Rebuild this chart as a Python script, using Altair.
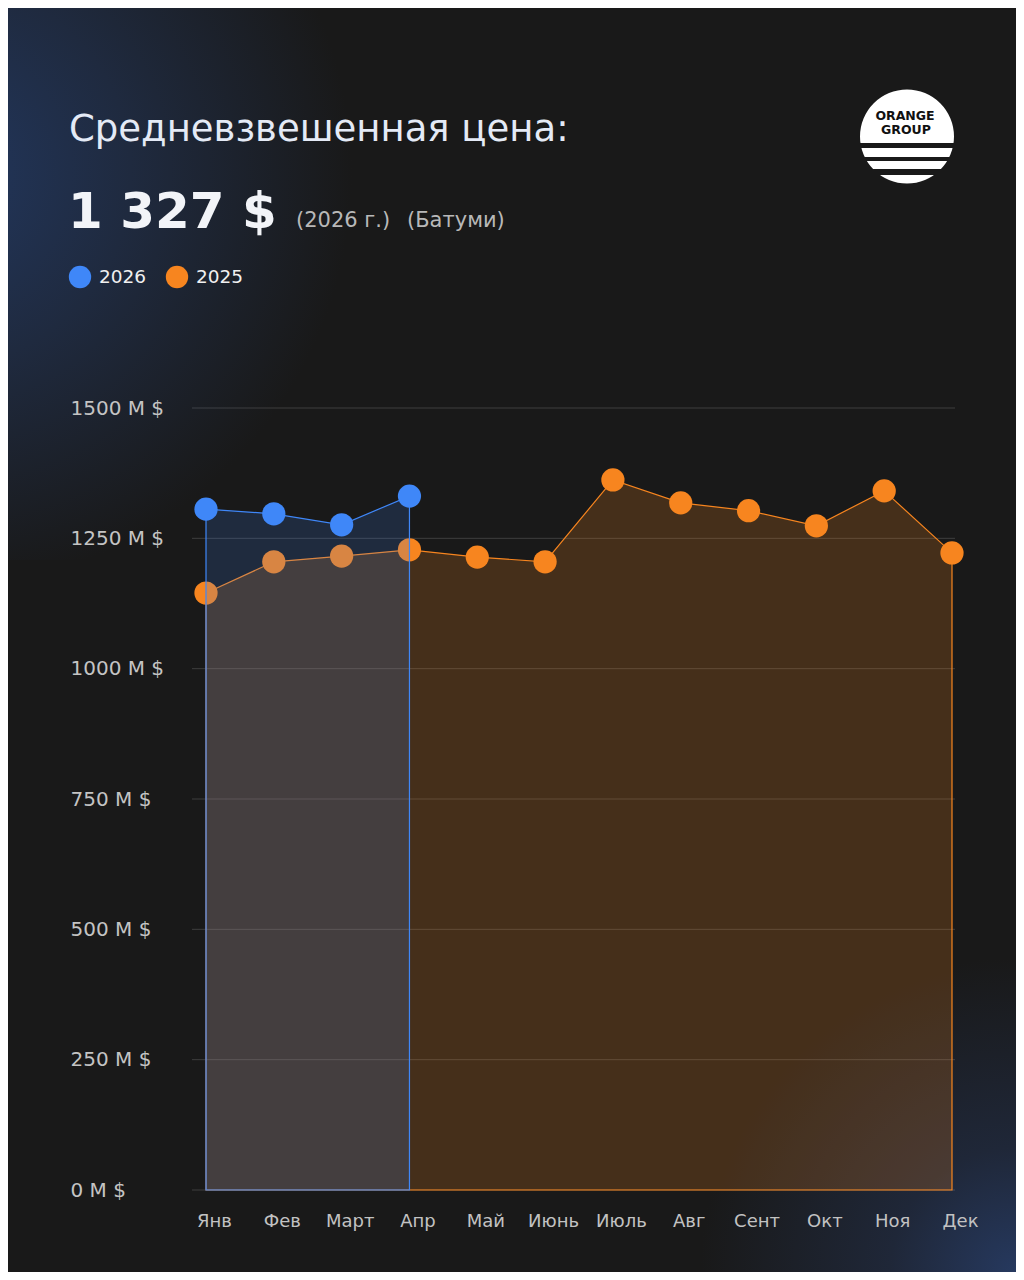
import altair as alt
import pandas as pd

# ---------------- data ----------------
months = ["Янв", "Фев", "Март", "Апр", "Май", "Июнь", "Июль", "Авг", "Сент", "Окт", "Ноя", "Дек"]
price_2025 = [1145, 1205, 1216, 1228, 1214, 1205, 1362, 1318, 1303, 1274, 1341, 1222]
price_2026 = [1306, 1297, 1276, 1331]
y_ticks = [0, 250, 500, 750, 1000, 1250, 1500]

title_text = "Средневзвешенная цена:"
big_value = "1 327 $"
sub_year = "(2026 г.)"
sub_city = "(Батуми)"
legend_labels = ["2026", "2025"]

df25 = pd.DataFrame({"month": months, "price": price_2025})
df26 = pd.DataFrame({"month": months[:len(price_2026)], "price": price_2026})
df_grid = pd.DataFrame({"price": y_ticks})

# ---------------- style ----------------
BG = "#191919"
ORANGE = "#f7851f"
BLUE = "#3f87f8"
FONT = "DejaVu Sans"

# plot area placed at screen x 192..958, y 408..1190
OX, OY = 192, 408
W, H = 766, 782
PAD = {"left": OX - 8, "top": OY - 8, "right": 1008 - (OX - 8) - W, "bottom": 1264 - (OY - 8) - H}

one = pd.DataFrame({"k": [0]})


def sx(v):
    return alt.value(v - OX)


def sy(v):
    return alt.value(v - OY)


x_enc = alt.X(
    "month:N",
    sort=months,
    scale=alt.Scale(type="point", domain=months, range=[14, 760], padding=0),
    axis=alt.Axis(
        title=None, domain=False, ticks=False, grid=False,
        labelPadding=22, labelFontSize=18, labelColor="#c2c2c2",
        labelFont=FONT, labelOffset=8, labelAngle=0, zindex=2,
    ),
)
y_scale = alt.Scale(domain=[0, 1500], nice=False, zero=True)
y_enc = alt.Y(
    "price:Q",
    scale=y_scale,
    axis=alt.Axis(
        title=None, values=y_ticks, domain=False, ticks=False,
        labelExpr="datum.value + ' M $'", labelAlign="left", labelBaseline="middle",
        labelPadding=OX - 70, labelFontSize=20, labelColor="#c4c4c4", labelFont=FONT,
        grid=False, zindex=2,
    ),
)

# ---------------- background glows ----------------
glow_tl = alt.Chart(one).mark_rect(
    fill={
        "gradient": "radial",
        "x1": 0.0, "y1": 0.3, "r1": 0.0,
        "x2": 0.0, "y2": 0.3, "r2": 1.0,
        "stops": [
            {"offset": 0.0, "color": "#22375e"},
            {"offset": 0.35, "color": "#1f2a3f"},
            {"offset": 0.75, "color": BG},
            {"offset": 1.0, "color": BG},
        ],
    }
).encode(x=sx(8), x2=sx(420), y=sy(8), y2=sy(560))

glow_br = alt.Chart(one).mark_rect(
    fill={
        "gradient": "radial",
        "x1": 1.0, "y1": 1.0, "r1": 0.0,
        "x2": 1.0, "y2": 1.0, "r2": 1.0,
        "stops": [
            {"offset": 0.0, "color": "#26395f"},
            {"offset": 0.4, "color": "#1f2738"},
            {"offset": 1.0, "color": BG},
        ],
    }
).encode(x=sx(700), x2=sx(1016), y=sy(960), y2=sy(1272))

# ---------------- gridlines ----------------
grid = alt.Chart(df_grid).mark_rule(color="#ffffff", opacity=0.16, strokeWidth=1).encode(
    y=y_enc, x=sx(192), x2=sx(955)
)

# ---------------- data layers ----------------
area25 = alt.Chart(df25).mark_area(
    fill=ORANGE, fillOpacity=0.2, stroke=ORANGE, strokeWidth=1.2, opacity=1
).encode(x=x_enc, y=y_enc)
pts25 = alt.Chart(df25).mark_circle(size=540, color=ORANGE, opacity=1).encode(x=x_enc, y=y_enc)

area26 = alt.Chart(df26).mark_area(
    fill=BLUE, fillOpacity=0.17, stroke=BLUE, strokeWidth=1.2, opacity=1
).encode(x=x_enc, y=y_enc)
pts26 = alt.Chart(df26).mark_circle(size=540, color=BLUE, opacity=1).encode(x=x_enc, y=y_enc)

# ---------------- header texts ----------------
title = alt.Chart(one).mark_text(
    text=title_text, align="left", baseline="alphabetic", font=FONT, fontSize=37,
    color="#e4eaf6",
).encode(x=sx(69), y=sy(141))

big = alt.Chart(one).mark_text(
    text=big_value, align="left", baseline="alphabetic", font=FONT, fontSize=50,
    fontWeight="bold", color="#f2f4f8",
).encode(x=sx(68), y=sy(228))

sub1 = alt.Chart(one).mark_text(
    text=sub_year, align="left", baseline="alphabetic", font=FONT, fontSize=21,
    color="#b8b8b8",
).encode(x=sx(296), y=sy(227))
sub2 = alt.Chart(one).mark_text(
    text=sub_city, align="left", baseline="alphabetic", font=FONT, fontSize=21,
    color="#b8b8b8",
).encode(x=sx(407), y=sy(227))

leg_dot1 = alt.Chart(one).mark_circle(size=500, color=BLUE, opacity=1).encode(x=sx(80), y=sy(277))
leg_dot2 = alt.Chart(one).mark_circle(size=500, color=ORANGE, opacity=1).encode(x=sx(177), y=sy(277))
leg_t1 = alt.Chart(one).mark_text(
    text=legend_labels[0], align="left", baseline="middle", font=FONT, fontSize=18.5, color="#f0f0f0"
).encode(x=sx(99), y=sy(277))
leg_t2 = alt.Chart(one).mark_text(
    text=legend_labels[1], align="left", baseline="middle", font=FONT, fontSize=18.5, color="#f0f0f0"
).encode(x=sx(196), y=sy(277))

# ---------------- logo ----------------
logo_circle = alt.Chart(one).mark_circle(size=94 * 94, color="#ffffff", opacity=1).encode(
    x=sx(907), y=sy(136.5)
)
logo_cuts = [
    alt.Chart(one).mark_rule(color=BG, strokeWidth=w).encode(x=sx(855), x2=sx(960), y=sy(yy))
    for yy, w in [(145.5, 5), (159, 4), (172, 6)]
]
logo_t1 = alt.Chart(one).mark_text(
    text="ORANGE", align="center", baseline="alphabetic", font=FONT, fontSize=12.5,
    fontWeight="bold", color="#111111",
).encode(x=sx(905), y=sy(120))
logo_t2 = alt.Chart(one).mark_text(
    text="GROUP", align="center", baseline="alphabetic", font=FONT, fontSize=12.5,
    fontWeight="bold", color="#111111",
).encode(x=sx(906), y=sy(134))

chart = alt.layer(
    glow_tl, glow_br, grid,
    area25, pts25, area26, pts26,
    title, big, sub1, sub2, leg_dot1, leg_dot2, leg_t1, leg_t2,
    logo_circle, *logo_cuts, logo_t1, logo_t2,
).properties(
    width=W, height=H, padding=PAD, autosize=alt.AutoSizeParams(type="none"),
    background=BG,
).configure_view(stroke=None)

chart.save("out.html", embed_options={"renderer": "svg", "actions": False})
